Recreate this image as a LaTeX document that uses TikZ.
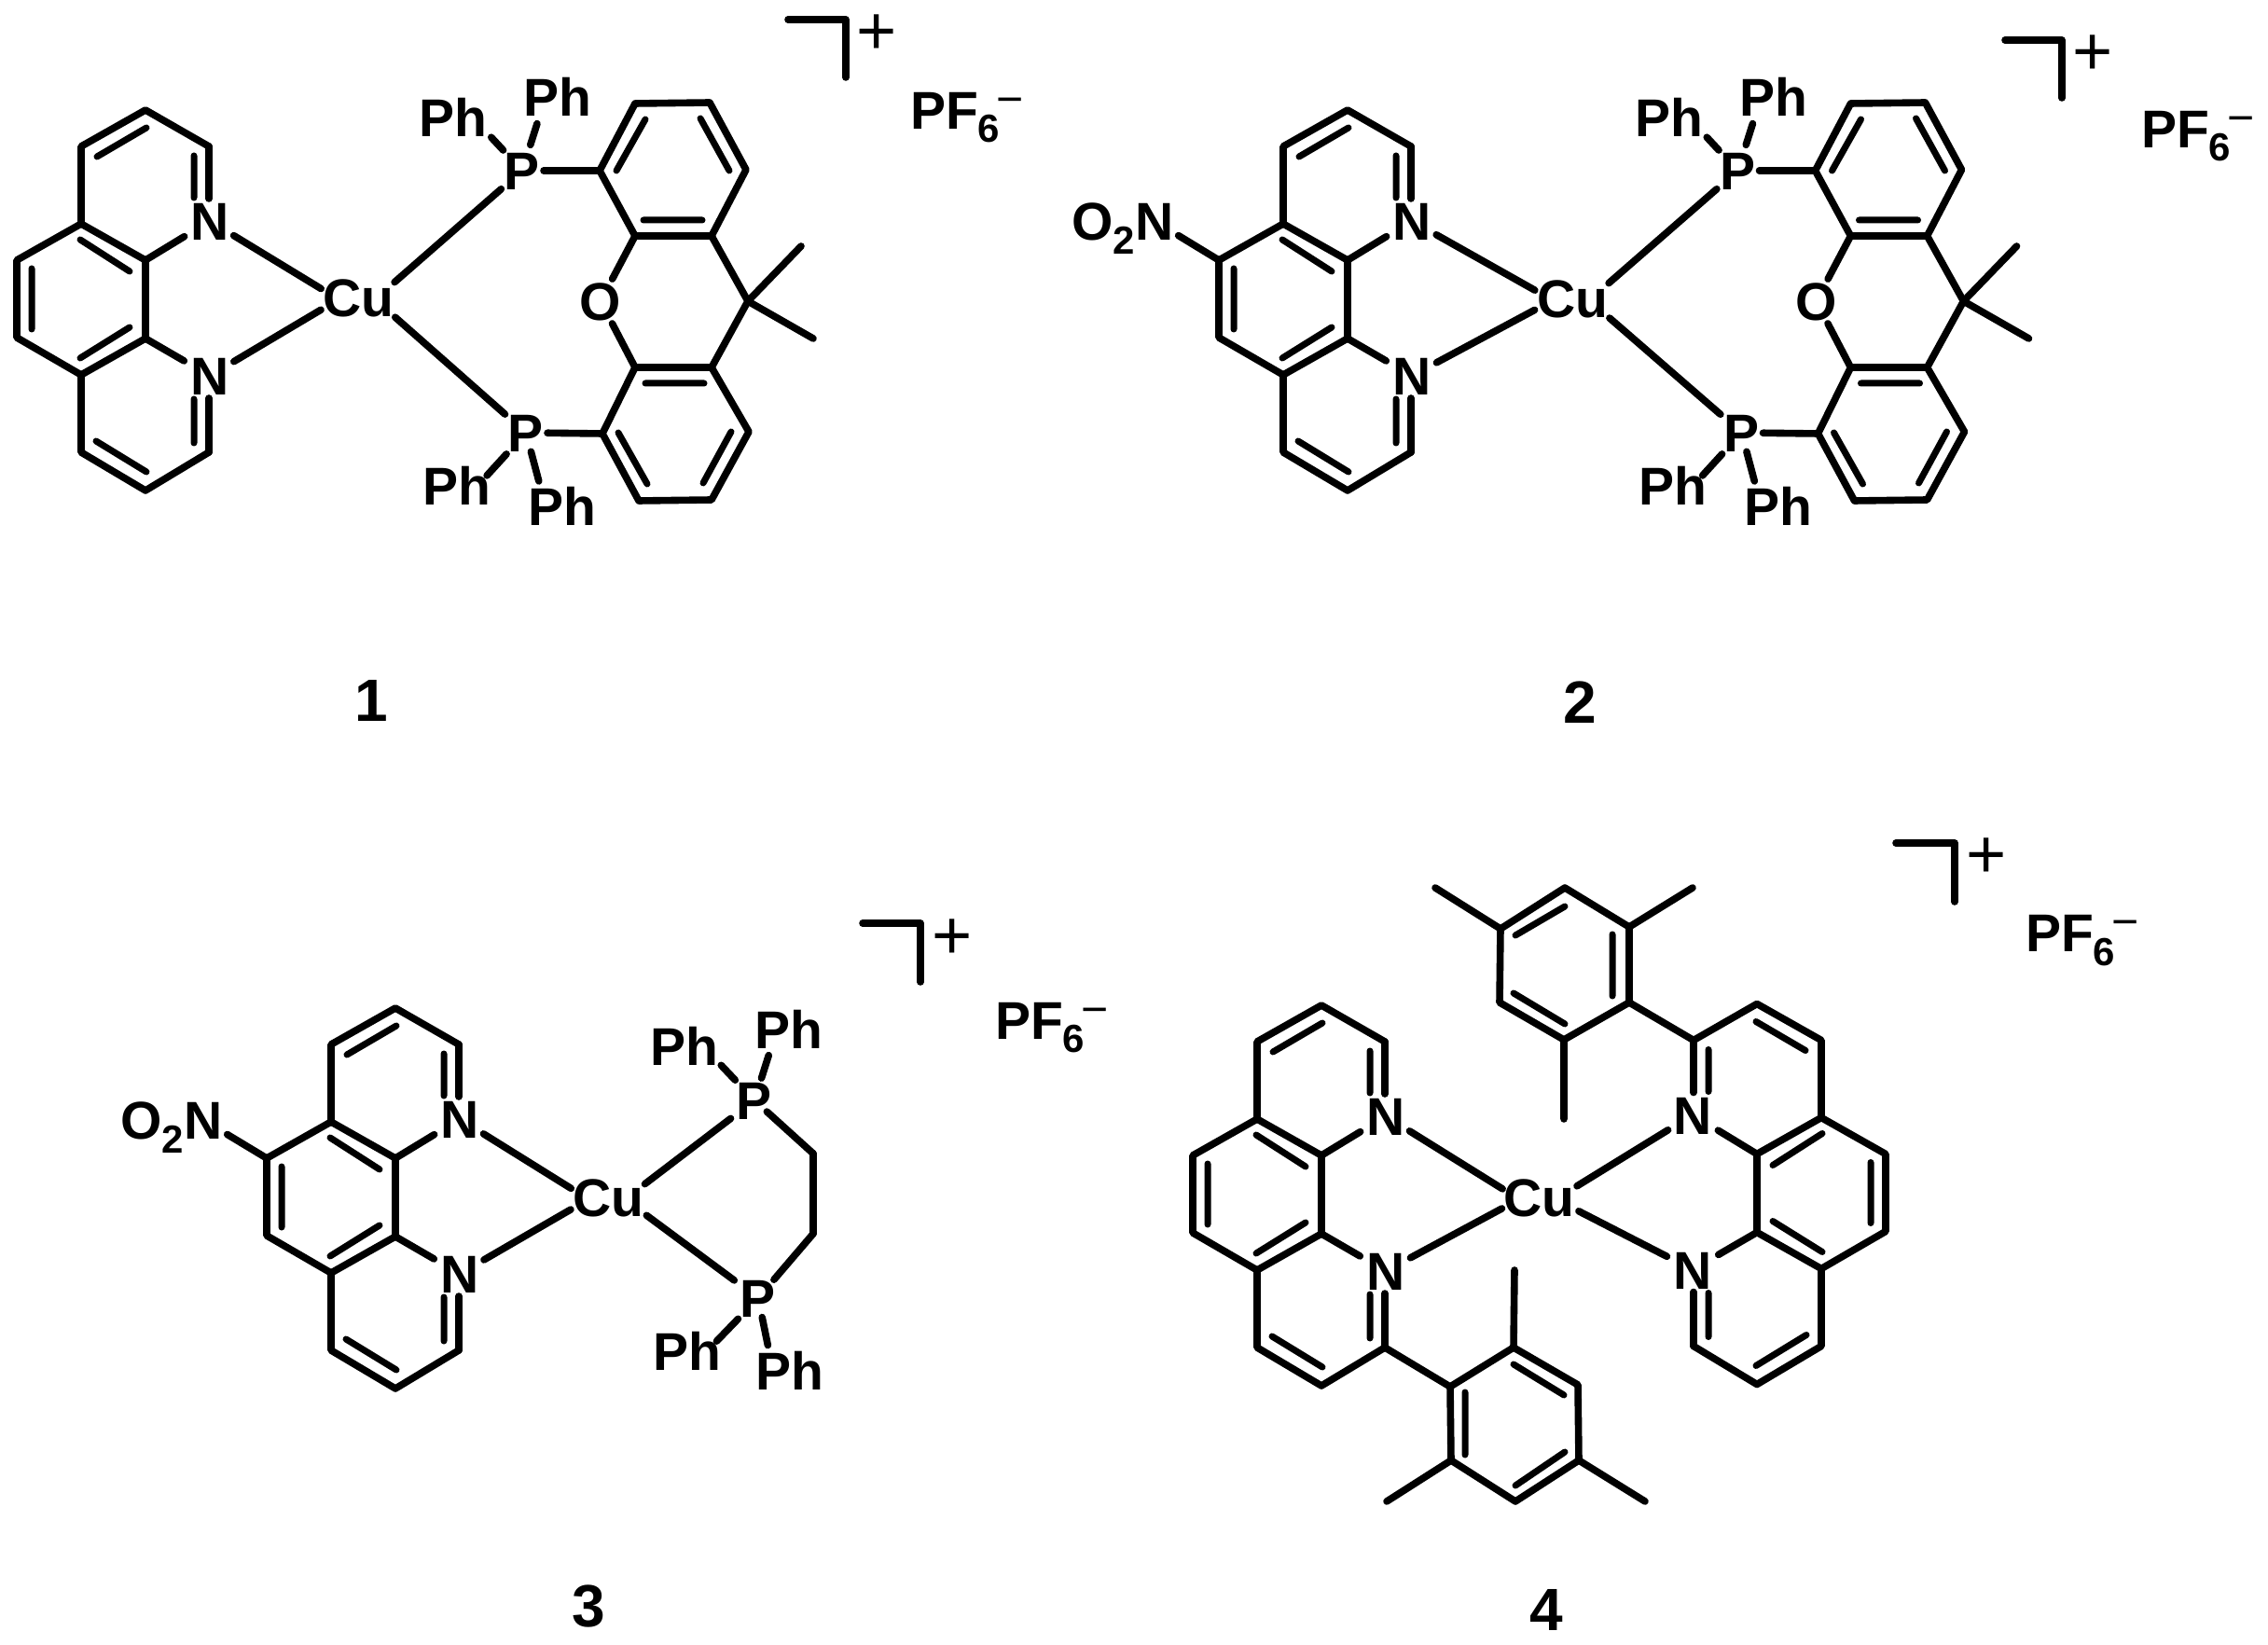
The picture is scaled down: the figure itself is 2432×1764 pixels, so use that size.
\documentclass[tikz,border=0pt]{standalone}
\usepackage{fontspec}
\setmainfont{Liberation Sans}
\newcommand{\lab}{\fontsize{28.5}{30}\bfseries\selectfont}
\newcommand{\subf}{\fontsize{21}{22}\bfseries\selectfont}
\newcommand{\chgf}{\fontsize{25}{26}\mdseries\selectfont}
\newcommand{\plusf}{\fontsize{37}{38}\mdseries\selectfont}
\newcommand{\numf}{\fontsize{32}{33}\bfseries\selectfont}
\newcommand{\pfsix}{PF\raisebox{-7pt}{\subf 6}\kern-2pt\raisebox{7.5pt}{\chgf −}}
\newcommand{\nitro}{O\raisebox{-7.5pt}{\subf 2}N}
\tikzset{
  bond/.style={line width=3.8pt,line cap=round,line join=round,black},
  inner/.style={line width=3.5pt,line cap=round,black},
  atom/.style={inner sep=0pt,outer sep=0pt,font=\lab,text height=20.5pt,text depth=0pt},
  chg/.style={inner sep=0pt,outer sep=0pt,font=\plusf,text height=25pt,text depth=0pt},
  num/.style={inner sep=0pt,outer sep=0pt,font=\numf,anchor=base},
  gap/.style 2 args={shorten <=#1pt,shorten >=#2pt}
}
% phenanthroline, origin at the top carbon
\newcommand{\phenmol}[1]{
  \coordinate (#1t) at (0,0);
  \coordinate (#1a) at (68,39);
  \node[atom] (#1Na) at (69,119) {N};
  \coordinate (#1b) at (0,161);
  \coordinate (#1c) at (0,245);
  \node[atom] (#1Nb) at (69,285) {N};
  \coordinate (#1d) at (68,367);
  \coordinate (#1e) at (0,408);
  \coordinate (#1f) at (-69,367);
  \coordinate (#1g) at (-69,284);
  \coordinate (#1h) at (-138,244);
  \coordinate (#1i) at (-138,161);
  \coordinate (#1j) at (-69,122);
  \coordinate (#1k) at (-69,39);
  \draw[bond] (#1j)--(#1k)--(#1t)--(#1a);
  \draw[bond,gap={0}{12}] (#1a)--(#1a|-#1Na.center);
  \draw[bond] (#1j)--(#1b)--(#1c)--(#1g)--(#1f)--(#1e)--(#1d);
  \draw[bond] (#1j)--(#1i)--(#1h)--(#1g);
  \draw[bond,gap={0}{12}] (#1d)--(#1d|-#1Nb.center);
  \draw[bond,gap={16}{0}] (#1Na.center)--(#1b);
  \draw[bond,gap={16}{0}] (#1Nb.center)--(#1c);
  \coordinate (#1i1) at (-52,50);  \coordinate (#1i2) at (1,19);
  \coordinate (#1i3) at (-122,170);\coordinate (#1i4) at (-122,235);
  \coordinate (#1i5) at (-70,139); \coordinate (#1i6) at (-17,173);
  \coordinate (#1i7) at (-70,266); \coordinate (#1i8) at (-17,233);
  \coordinate (#1i9) at (-53,355); \coordinate (#1i10) at (1,388);
  \coordinate (#1i11) at (52,49);  \coordinate (#1i12) at (52,94);
  \coordinate (#1i13) at (52,310); \coordinate (#1i14) at (52,357);
  \draw[inner] (#1i1)--(#1i2) (#1i3)--(#1i4) (#1i5)--(#1i6) (#1i7)--(#1i8)
     (#1i9)--(#1i10) (#1i11)--(#1i12) (#1i13)--(#1i14);
}
% xanthene diphosphine, in the frame of molecule 1
\newcommand{\xanmol}[1]{
  \node[atom] (#1P1) at (560,183) {P};
  \node[atom] (#1P2) at (564,464) {P};
  \node[atom] (#1O) at (644,323) {O};
  \node[atom] (#1Pa) at (486,126) {Ph};
  \node[atom] (#1Pb) at (598,104) {Ph};
  \node[atom] (#1Pc) at (490,521) {Ph};
  \node[atom] (#1Pd) at (603,543) {Ph};
  \coordinate (#1Pat) at (507,126);
  \coordinate (#1Pbt) at (585,104);
  \coordinate (#1Pct) at (512,521);
  \coordinate (#1Pdt) at (585,543);
  \coordinate (#1r1) at (643,183);
  \coordinate (#1r2) at (681,111);
  \coordinate (#1r3) at (761,110);
  \coordinate (#1r4) at (800,182);
  \coordinate (#1r5) at (763,253);
  \coordinate (#1r6) at (681,253);
  \coordinate (#1r7) at (681,394);
  \coordinate (#1r8) at (763,394);
  \coordinate (#1r9) at (803,463);
  \coordinate (#1r10) at (763,536);
  \coordinate (#1r11) at (685,537);
  \coordinate (#1r12) at (646,465);
  \coordinate (#1q) at (802,323);
  \coordinate (#1m1) at (859,264);
  \coordinate (#1m2) at (872,363);
  \draw[bond] (#1r6)--(#1r1)--(#1r2)--(#1r3)--(#1r4)--(#1r5)--(#1r6);
  \draw[bond] (#1r7)--(#1r12)--(#1r11)--(#1r10)--(#1r9)--(#1r8)--(#1r7);
  \draw[bond] (#1r5)--(#1q)--(#1r8);
  \draw[bond] (#1m1)--(#1q)--(#1m2);
  \draw[bond,gap={13.5}{0}] (#1O.center)--(#1r6);
  \draw[bond,gap={13.5}{0}] (#1O.center)--(#1r7);
  \draw[bond,gap={11.5}{0}] (#1P1.center)--(#1r1);
  \draw[bond,gap={11.5}{0}] (#1P2.center)--(#1r12);
  \draw[bond,gap={15}{14.5}] (#1P1.center)--(#1Pat);
  \draw[bond,gap={14.5}{15}] (#1P1.center)--(#1Pbt);
  \draw[bond,gap={15.5}{7.5}] (#1P2.center)--(#1Pct);
  \draw[bond,gap={10.5}{14}] (#1P2.center)--(#1Pdt);
  \coordinate (#1i1) at (692,128); \coordinate (#1i2) at (661,183);
  \coordinate (#1i3) at (751,127); \coordinate (#1i4) at (782,183);
  \coordinate (#1i5) at (690,236); \coordinate (#1i6) at (753,236);
  \coordinate (#1i7) at (692,411); \coordinate (#1i8) at (755,411);
  \coordinate (#1i9) at (663,464); \coordinate (#1i10) at (694,519);
  \coordinate (#1i11) at (784,463);\coordinate (#1i12) at (754,518);
  \draw[inner] (#1i1)--(#1i2) (#1i3)--(#1i4) (#1i5)--(#1i6) (#1i7)--(#1i8)
     (#1i9)--(#1i10) (#1i11)--(#1i12);
}
% copper centre: text node plus the two points its bonds aim at
\newcommand{\cunode}[3]{
  \node[atom] (#1Cu) at (#2,#3) {Cu};
  \coordinate (#1cuL) at (#2-21,#3+2);
  \coordinate (#1cuR) at (#2+18,#3+2);
}
\begin{document}
\begin{tikzpicture}[x=0.5pt,y=-0.5pt]
\fill[white] (0,0) rectangle (2432,1764);
\useasboundingbox (0,0) rectangle (2432,1764);

% ---------- molecule 1
\begin{scope}[shift={(156,118)}]\phenmol{A}\end{scope}
\xanmol{A}
\cunode{A}{384}{319}
\draw[bond,gap={15}{11}] (ANa.center)--(AcuL);
\draw[bond,gap={15}{11}] (ANb.center)--(AcuL);
\draw[bond,gap={15}{14}] (AP1.center)--(AcuR);
\draw[bond,gap={15}{14.5}] (AP2.center)--(AcuR);
\coordinate (Ab1) at (845,21); \coordinate (Ab2) at (907,21); \coordinate (Ab3) at (907,83);
\draw[bond] (Ab1)--(Ab2)--(Ab3);
\node[chg] (Apl) at (940,34) {+};
\node[atom,anchor=base west] (Apf) at (976,139) {\pfsix};
\node[num] (Anum) at (398,774) {1};

% ---------- molecule 2
\begin{scope}[shift={(1445,118)}]\phenmol{B}\end{scope}
\begin{scope}[shift={(1303.5,0)}]\xanmol{B}\end{scope}
\cunode{B}{1686}{320}
\draw[bond,gap={15}{11}] (BNa.center)--(BcuL);
\draw[bond,gap={15}{11}] (BNb.center)--(BcuL);
\draw[bond,gap={15}{14}] (BP1.center)--(BcuR);
\draw[bond,gap={15}{14.5}] (BP2.center)--(BcuR);
\node[atom] (Bno) at (1204,237) {\nitro};
\coordinate (Bnoa) at (1238,237);
\draw[bond,gap={15}{0}] (Bnoa)--(Bi);
\coordinate (Bb1) at (2150,43); \coordinate (Bb2) at (2211,43); \coordinate (Bb3) at (2211,105);
\draw[bond] (Bb1)--(Bb2)--(Bb3);
\node[chg] (Bpl) at (2244,56) {+};
\node[atom,anchor=base west] (Bpf) at (2296,159) {\pfsix};
\node[num] (Bnum) at (1694,776) {2};

% ---------- molecule 3
\begin{scope}[shift={(424,1081)}]\phenmol{C}\end{scope}
\cunode{C}{652}{1284}
\node[atom] (CP1) at (809,1180) {P};
\node[atom] (CP2) at (813,1392) {P};
\node[atom] (CPa) at (734,1122) {Ph};
\node[atom] (CPb) at (846,1104) {Ph};
\node[atom] (CPc) at (737,1449) {Ph};
\node[atom] (CPd) at (847,1470) {Ph};
\coordinate (CPat) at (754,1122);
\coordinate (CPbt) at (833,1104);
\coordinate (CPct) at (758,1449);
\coordinate (CPdt) at (829,1470);
\coordinate (Ce1) at (872,1237);
\coordinate (Ce2) at (872,1323);
\draw[bond,gap={15}{11}] (CNa.center)--(CcuL);
\draw[bond,gap={15}{11}] (CNb.center)--(CcuL);
\draw[bond,gap={16}{13.5}] (CP1.center)--(CcuR);
\draw[bond,gap={16}{14.5}] (CP2.center)--(CcuR);
\draw[bond,gap={9}{0}] (CP1.center)--(Ce1);
\draw[bond] (Ce1)--(Ce2);
\draw[bond,gap={0}{13}] (Ce2)--(CP2.center);
\draw[bond,gap={15}{14}] (CP1.center)--(CPat);
\draw[bond,gap={12.5}{14.5}] (CP1.center)--(CPbt);
\draw[bond,gap={15.5}{7.5}] (CP2.center)--(CPct);
\draw[bond,gap={10.5}{14}] (CP2.center)--(CPdt);
\node[atom] (Cno) at (184,1201) {\nitro};
\coordinate (Cnoa) at (218,1201);
\draw[bond,gap={15}{0}] (Cnoa)--(Ci);
\coordinate (Cb1) at (925,990); \coordinate (Cb2) at (987,990); \coordinate (Cb3) at (987,1053);
\draw[bond] (Cb1)--(Cb2)--(Cb3);
\node[chg] (Cpl) at (1021,1003) {+};
\node[atom,anchor=base west] (Cpf) at (1067,1114) {\pfsix};
\node[num] (Cnum) at (631,1744) {3};

% ---------- molecule 4
\begin{scope}[shift={(1417,1078)}]\phenmol{D}\end{scope}
\begin{scope}[shift={(1884,1076.5)},xscale=-1]\phenmol{E}\end{scope}
\cunode{D}{1650}{1284}
\draw[bond,gap={15}{10.5}] (DNa.center)--(DcuL);
\draw[bond,gap={15}{10.5}] (DNb.center)--(DcuL);
\draw[bond,gap={15.5}{13.5}] (ENa.center)--(DcuR);
\draw[bond,gap={15.5}{14}] (ENb.center)--(DcuR);
% lower mesityl
\coordinate (Fr1) at (1555,1487);
\coordinate (Fr2) at (1623,1445);
\coordinate (Fr3) at (1692,1485);
\coordinate (Fr4) at (1693,1566);
\coordinate (Fr5) at (1625,1610);
\coordinate (Fr6) at (1556,1566);
\coordinate (Fm1) at (1624,1362);
\coordinate (Fm2) at (1764,1610);
\coordinate (Fm3) at (1487,1610);
\draw[bond] (Dd)--(Fr1)--(Fr2)--(Fr3)--(Fr4)--(Fr5)--(Fr6)--(Fr1);
\draw[bond] (Fr2)--(Fm1) (Fr4)--(Fm2) (Fr6)--(Fm3);
\coordinate (Fi1) at (1623,1463); \coordinate (Fi2) at (1677,1496);
\coordinate (Fi3) at (1571,1493); \coordinate (Fi4) at (1571,1560);
\coordinate (Fi5) at (1625,1593); \coordinate (Fi6) at (1678,1557);
\draw[inner] (Fi1)--(Fi2) (Fi3)--(Fi4) (Fi5)--(Fi6);
% upper mesityl
\coordinate (Gr1) at (1747,1075);
\coordinate (Gr2) at (1747,994);
\coordinate (Gr3) at (1678,952);
\coordinate (Gr4) at (1609,996);
\coordinate (Gr5) at (1608,1075);
\coordinate (Gr6) at (1677,1115);
\coordinate (Gm1) at (1815,952);
\coordinate (Gm2) at (1539,952);
\coordinate (Gm3) at (1677,1200);
\draw[bond] (Ea)--(Gr1)--(Gr2)--(Gr3)--(Gr4)--(Gr5)--(Gr6)--(Gr1);
\draw[bond] (Gr2)--(Gm1) (Gr4)--(Gm2) (Gr6)--(Gm3);
\coordinate (Gi1) at (1729,1002); \coordinate (Gi2) at (1729,1068);
\coordinate (Gi3) at (1623,1065); \coordinate (Gi4) at (1678,1098);
\coordinate (Gi5) at (1625,1003); \coordinate (Gi6) at (1678,972);
\draw[inner] (Gi1)--(Gi2) (Gi3)--(Gi4) (Gi5)--(Gi6);
\coordinate (Db1) at (2033,904); \coordinate (Db2) at (2096,904); \coordinate (Db3) at (2096,967);
\draw[bond] (Db1)--(Db2)--(Db3);
\node[chg] (Dpl) at (2130,917) {+};
\node[atom,anchor=base west] (Dpf) at (2172,1021) {\pfsix};
\node[num] (Dnum) at (1658,1748) {4};
\end{tikzpicture}
\end{document}
